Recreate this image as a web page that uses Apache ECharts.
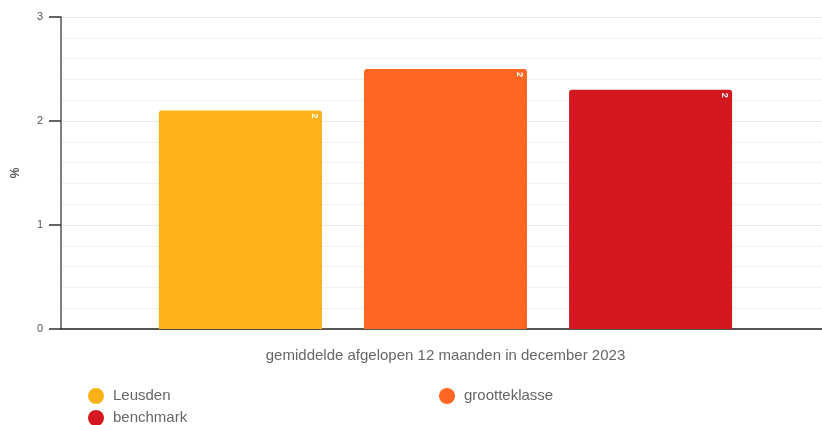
<!DOCTYPE html>
<html>
<head>
<meta charset="utf-8">
<script src="https://cdn.jsdelivr.net/npm/echarts@6/dist/echarts.min.js"></script>
<style>
  html, body { margin: 0; padding: 0; background: #fff; }
  #chart { width: 822px; height: 425px; }
</style>
</head>
<body>
<div id="chart"></div>
<script>
// ===== data =====
const categories = ['gemiddelde afgelopen 12 maanden in december 2023']
const seriesNames = ['Leusden', 'grootteklasse', 'benchmark']
const seriesValues = [[2.1], [2.5], [2.3]]
const seriesColors = ['#fdb21a', '#fe6621', '#d4181f']

const chart = echarts.init(document.getElementById('chart'))

// legend positions (two columns)
const legendPos = [
  { left: 83, top: 383 },
  { left: 434, top: 383 },
  { left: 83, top: 405 }
]

const option = {
  animation: false,
  textStyle: { fontFamily: 'Liberation Sans, Arial, sans-serif' },
  grid: { left: 61, width: 769, top: 17, bottom: 96, outerBoundsMode: 'none', containLabel: false },
  legend: seriesNames.map((name, i) => ({
    data: [name],
    left: legendPos[i].left,
    top: legendPos[i].top,
    icon: 'circle',
    itemWidth: 16,
    itemHeight: 16,
    textStyle: { fontSize: 15, color: '#666', padding: [0, 0, 0, 4] }
  })),
  xAxis: {
    type: 'category',
    data: categories,
    axisLine: { lineStyle: { color: '#222', width: 1.5 } },
    axisTick: { show: false },
    axisLabel: { fontSize: 15, color: '#666', margin: 19 }
  },
  yAxis: {
    type: 'value',
    min: 0,
    max: 3,
    interval: 1,
    name: '%',
    nameLocation: 'middle',
    nameGap: 39,
    nameTextStyle: { fontSize: 12, color: '#555', fontWeight: 'bold' },
    axisLine: { show: true, lineStyle: { color: '#555', width: 1.5 } },
    axisTick: { show: true, length: 12, lineStyle: { color: '#333', width: 1.5 } },
    axisLabel: { fontSize: 11, color: '#555', margin: 18 },
    splitLine: { lineStyle: { color: '#eaeaea' } },
    minorTick: { show: false, splitNumber: 5 },
    minorSplitLine: { show: true, lineStyle: { color: '#f0f0f0' } }
  },
  series: seriesNames.map((name, i) => ({
    name,
    type: 'bar',
    data: seriesValues[i],
    barWidth: '21.2%',
    barGap: '25.8%',
    itemStyle: { color: seriesColors[i], borderRadius: [3, 3, 0, 0] },
    label: {
      show: true,
      position: 'insideTopRight',
      rotate: -90,
      align: 'left',
      verticalAlign: 'top',
      distance: 3,
      color: '#fff',
      fontSize: 9,
      fontWeight: 'bold',
      formatter: p => Math.floor(p.value)
    }
  }))
}

chart.setOption(option)
</script>
</body>
</html>
